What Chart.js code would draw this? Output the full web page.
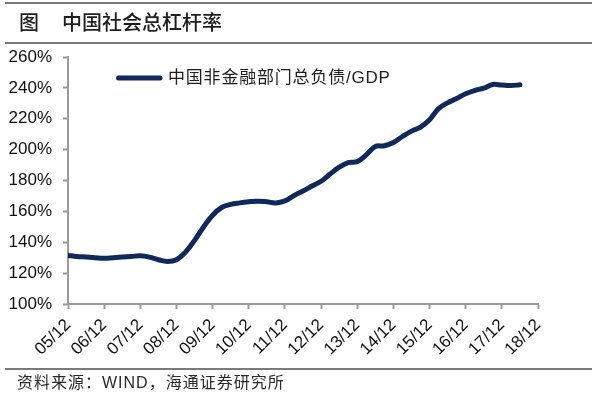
<!DOCTYPE html>
<html>
<head>
<meta charset="utf-8">
<script src="https://cdn.jsdelivr.net/npm/chart.js@4/dist/chart.umd.min.js"></script>
<style>
  html, body { margin: 0; padding: 0; background: #fff; }
  #page { position: relative; width: 600px; height: 398px; overflow: hidden; }
  #chart { position: absolute; left: 0; top: 0; }
  .rule { position: absolute; left: 5px; width: 587px; height: 2px; background: #7a7a7a; }
  .title { position: absolute; top: 8px; font: 500 20px "Noto Sans CJK SC", sans-serif; color: #1e1e1e; line-height: 28px; }
  .source { position: absolute; left: 17px; top: 372px; font: 16px "Liberation Sans", "Noto Sans CJK SC", sans-serif; letter-spacing: 1px; color: #2a2a2a; line-height: 22px; }
</style>
</head>
<body>
<div id="page">
  <canvas id="chart" width="600" height="398"></canvas>
  <div class="rule" style="top:2px"></div>
  <div class="title" style="left:19px">图</div>
  <div class="title" style="left:62px">中国社会总杠杆率</div>
  <div class="rule" style="top:42px"></div>
  <div class="rule" style="top:368px"></div>
  <div class="source">资料来源：WIND，海通证券研究所</div>
</div>
<script>
// 年度刻度 (每年12月)
const yearLabels = ['05/12', '06/12', '07/12', '08/12', '09/12', '10/12', '11/12',
  '12/12', '13/12', '14/12', '15/12', '16/12', '17/12', '18/12']

// 季度数据 05/12 ~ 18/06, 单位 %
const leverage = [
  131.5, 130.8, 130.4, 130.0, 129.7, 130.0, 130.4, 130.8,
  131.2, 130.4, 128.7, 127.6, 128.7, 133.6, 141.2, 149.9,
  157.5, 162.5, 164.5, 165.5, 166.2, 166.6, 166.2, 165.5,
  166.8, 170.2, 173.2, 176.4, 179.5, 184.2, 188.6, 191.6,
  192.2, 196.6, 202.0, 202.5, 204.6, 208.5, 212.0, 214.6,
  219.4, 226.6, 230.3, 233.1, 236.2, 238.3, 239.8, 242.2,
  241.8, 241.5, 242.0
]

const seriesName = '中国非金融部门总负债/GDP'
const lineColor = '#10295b'
const axisColor = '#9a9a9a'
const latinFont = '"Liberation Sans", "Noto Sans CJK SC", sans-serif'

// 图例画在坐标区内部
const inlineLegend = {
  id: 'inlineLegend',
  afterDatasetsDraw(chart) {
    const { ctx, chartArea } = chart
    const ds = chart.data.datasets[0]
    const x = chartArea.left + 48
    const y = chartArea.top + 21
    ctx.save()
    ctx.strokeStyle = ds.borderColor
    ctx.lineWidth = 5
    ctx.lineCap = 'round'
    ctx.beginPath()
    ctx.moveTo(x + 2.5, y)
    ctx.lineTo(x + 44, y)
    ctx.stroke()
    ctx.fillStyle = '#1e1e1e'
    ctx.font = '17px ' + latinFont
    ctx.letterSpacing = '0.8px'
    ctx.textBaseline = 'middle'
    ctx.fillText(ds.label, x + 52, y)
    ctx.restore()
  }
}

new Chart(document.getElementById('chart'), {
  type: 'line',
  data: {
    datasets: [{
      label: seriesName,
      data: leverage.map((v, i) => ({ x: i, y: v })),
      borderColor: lineColor,
      borderWidth: 5,
      borderJoinStyle: 'round',
      borderCapStyle: 'round',
      pointRadius: 0,
      tension: 0.4,
      fill: false
    }]
  },
  options: {
    responsive: false,
    animation: false,
    layout: { padding: { top: 57, right: 62, bottom: 0, left: 0 } },
    plugins: {
      legend: { display: false },
      tooltip: { enabled: false }
    },
    scales: {
      x: {
        type: 'linear',
        min: 0,
        max: (yearLabels.length - 1) * 4,
        ticks: {
          stepSize: 4,
          autoSkip: false,
          minRotation: 45,
          maxRotation: 45,
          padding: 6,
          color: '#111',
          font: { size: 17, family: latinFont },
          callback: v => yearLabels[v / 4]
        },
        grid: { drawOnChartArea: false, tickLength: 5, tickColor: axisColor, tickWidth: 2 },
        border: { color: axisColor, width: 2 },
        afterFit: s => { s.height = 94 }
      },
      y: {
        min: 100,
        max: 260,
        ticks: {
          stepSize: 20,
          padding: 11,
          color: '#111',
          font: { size: 17, family: latinFont },
          callback: v => v + '%'
        },
        grid: { drawOnChartArea: false, tickLength: 5, tickColor: axisColor, tickWidth: 2 },
        border: { color: axisColor, width: 2 },
        afterFit: s => { s.width = 68 }
      }
    }
  },
  plugins: [inlineLegend]
})
</script>
</body>
</html>
